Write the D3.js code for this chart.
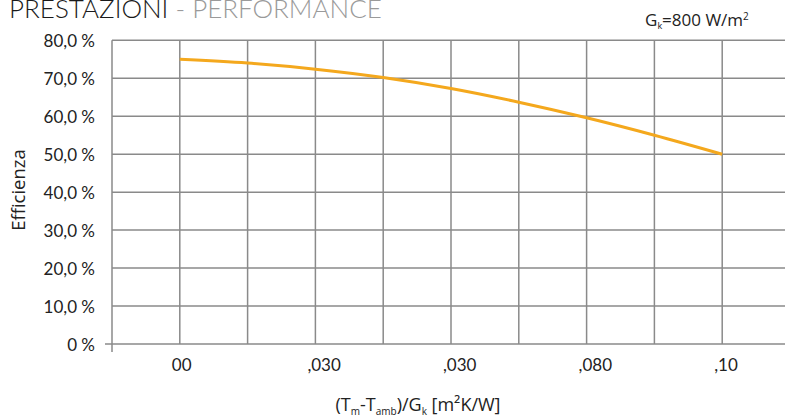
<!DOCTYPE html>
<html><head><meta charset="utf-8">
<script src="https://cdn.jsdelivr.net/npm/d3@7"></script>
<style>body{margin:0;background:#fff}svg{display:block}</style>
</head><body>
<svg id="c" width="785" height="418"></svg>
<script>
// Data
const xValues = [0, 0.0125, 0.025, 0.0375, 0.05, 0.0625, 0.075, 0.0875, 0.1];
const efficiency = [75.0, 74.0, 72.4, 70.2, 67.3, 63.7, 59.6, 55.0, 50.0];
const yTicks = [0, 10, 20, 30, 40, 50, 60, 70, 80];
const yTickLabels = ["0 %", "10,0 %", "20,0 %", "30,0 %", "40,0 %", "50,0 %", "60,0 %", "70,0 %", "80,0 %"];
const xGrid = [-0.0125, 0, 0.0125, 0.025, 0.0375, 0.05, 0.0625, 0.075, 0.0875, 0.1, 0.1125];
const xTicks = [0, 0.025, 0.05, 0.075, 0.1];
const xTickLabels = ["00", ",030", ",030", ",080", ",10"];

(function () {
const svg = d3.select("#c");
const mLeft = 112, mRight = 790, mTop = 40.3, mBottom = 344;
const x = d3.scaleLinear().domain([-0.0125, 0.1125]).range([mLeft, mRight]);
const y = d3.scaleLinear().domain([0, 80]).range([mBottom, mTop]);
const gridColor = "#8a8a8a";
const font = "Lato, 'Open Sans', sans-serif";
const font2 = "'Open Sans', sans-serif";

// horizontal grid
svg.append("g").selectAll("line").data(yTicks).join("line")
  .attr("x1", d => d === 0 ? 105 : mLeft).attr("x2", 785)
  .attr("y1", d => y(d)).attr("y2", d => y(d))
  .attr("stroke", gridColor).attr("stroke-width", 1.5);
// vertical grid
svg.append("g").selectAll("line").data(xGrid).join("line")
  .attr("x1", d => x(d)).attr("x2", d => x(d))
  .attr("y1", mTop).attr("y2", (d, i) => i === 0 ? mBottom + 8 : mBottom)
  .attr("stroke", gridColor).attr("stroke-width", 1.5);

// y labels
svg.append("g").selectAll("text").data(yTicks).join("text")
  .attr("x", 95).attr("y", d => y(d) + 6.5)
  .attr("text-anchor", "end").attr("font-family", font).attr("font-size", 17)
  .attr("fill", "#222").text((d, i) => yTickLabels[i]);

// x labels
svg.append("g").selectAll("text").data(xTicks).join("text")
  .attr("x", d => x(d) - 8).attr("y", 371)
  .attr("text-anchor", "start").attr("font-family", font).attr("font-size", 17)
  .attr("fill", "#222").text((d, i) => xTickLabels[i]);

// curve
const line = d3.line().x((d, i) => x(xValues[i])).y(d => y(d)).curve(d3.curveMonotoneX);
svg.append("path").datum(efficiency).attr("d", line)
  .attr("fill", "none").attr("stroke", "#f4a81d").attr("stroke-width", 3);

// title
const t = svg.append("text").attr("x", 9).attr("y", 17.5)
  .attr("font-family", font).attr("font-weight", 300).attr("font-size", 26);
t.append("tspan").attr("fill", "#1a1a1a").text("PRESTAZIONI");
t.append("tspan").attr("fill", "#9a9a9a").text(" - PERFORMANCE");

// Gk label
const g = svg.append("text").attr("x", 645).attr("y", 26)
  .attr("font-family", font2).attr("font-size", 17).attr("fill", "#222");
g.append("tspan").text("G");
g.append("tspan").attr("font-size", 9).attr("dy", 3).text("k");
g.append("tspan").attr("dy", -3).text("=800 W/m");
g.append("tspan").attr("font-size", 10).attr("dy", -6).text("2");

// y axis title
svg.append("text").attr("transform", "translate(25,190) rotate(-90)")
  .attr("text-anchor", "middle").attr("font-family", font2).attr("font-size", 18.5)
  .attr("fill", "#222").text("Efficienza");

// x axis title
const xt = svg.append("text").attr("x", 418).attr("y", 411).attr("text-anchor", "middle")
  .attr("font-family", font2).attr("font-size", 18).attr("fill", "#222");
xt.append("tspan").text("(T");
xt.append("tspan").attr("font-size", 10).attr("dy", 4).text("m");
xt.append("tspan").attr("dy", -4).text("-T");
xt.append("tspan").attr("font-size", 10).attr("dy", 4).text("amb");
xt.append("tspan").attr("dy", -4).text(")/G");
xt.append("tspan").attr("font-size", 10).attr("dy", 4).text("k");
xt.append("tspan").attr("dy", -4).text(" [m²K/W]");
})();
</script>
</body></html>
